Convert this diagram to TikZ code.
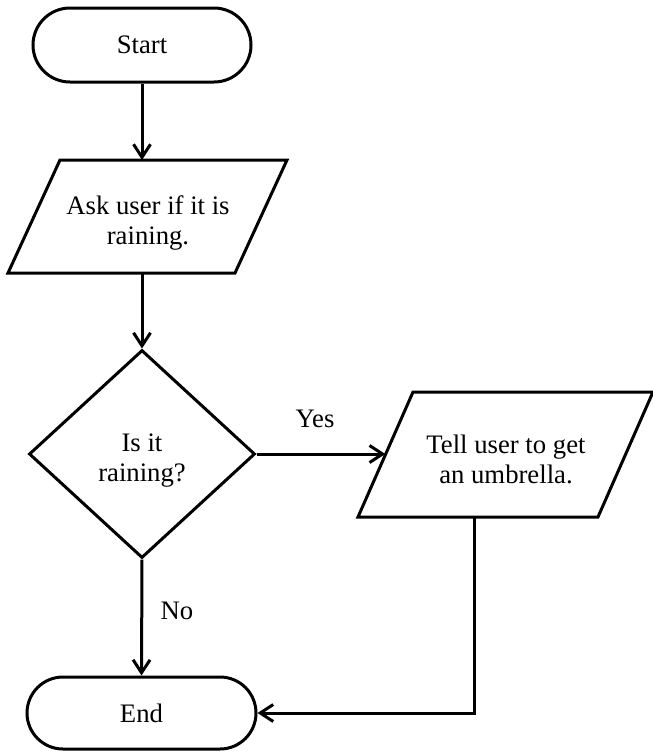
\documentclass[tikz,border=0pt]{standalone}
\usepackage{fontspec}
\setmainfont{Liberation Serif}
\usetikzlibrary{arrows.meta,shapes.misc,shapes.geometric}
\begin{document}
\begin{tikzpicture}[x=0.5pt,y=-0.5pt,line width=1.5pt,
  every node/.style={font=\fontsize{13.35}{15}\selectfont},
  terminal/.style={draw,rounded rectangle,inner sep=0pt},
  decision/.style={draw,diamond,inner sep=0pt,minimum width=113pt,minimum height=104pt},
  txt/.style={align=center,inner sep=0pt},
  lbl/.style={inner sep=0pt,anchor=base},
  arr/.style={-{Straight Barb[length=6.5pt,width=8.5pt]}}]
\useasboundingbox (0,0) rectangle (653,751);
% Start
\node[terminal,minimum width=109pt,minimum height=37pt] (start) at (142,45) {Start};
% Input parallelogram
\draw (60,160) -- (287,160) -- (235,273) -- (8,273) -- cycle;
\coordinate (p1top) at (142,160);
\coordinate (p1bot) at (142,273);
\node[txt] (asktxt) at (148,223) {Ask user if it is\\raining.};
% Decision
\node[decision] (dec) at (142,454) {};
\node[txt] (dectxt) at (142,461) {Is it\\raining?};
% Output parallelogram
\draw (413,392) -- (653,392) -- (598,517) -- (358,517) -- cycle;
\coordinate (p2left) at (385.3,454);
\coordinate (p2bot) at (474,517);
\node[txt] (telltxt) at (506,459) {Tell user to get\\an umbrella.};
% End
\node[terminal,minimum width=114.5pt,minimum height=36pt] (end) at (141.5,713) {End};
% Connectors
\draw[arr] (start.south) -- (p1top);
\draw[arr] (p1bot) -- (dec.north);
\draw[arr] (dec.east) -- (p2left);
\draw[arr] (dec.south) -- (end.north);
\draw[arr] (p2bot) |- (end.east);
% Labels
\node[lbl] (yes) at (315,427) {Yes};
\node[lbl] (no) at (177,619) {No};
\end{tikzpicture}
\end{document}
